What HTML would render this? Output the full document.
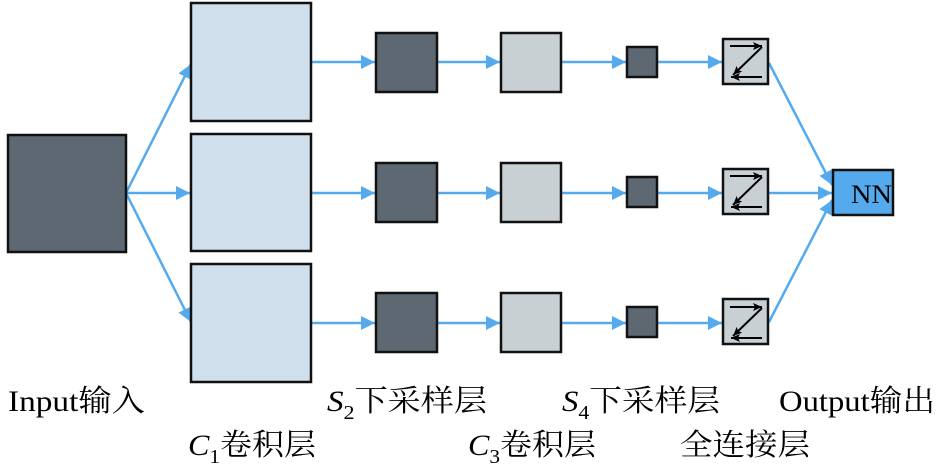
<!DOCTYPE html>
<html><head><meta charset="utf-8"><style>html,body{margin:0;padding:0;background:#fff}</style></head><body>
<svg width="945" height="470" viewBox="0 0 945 470" xmlns="http://www.w3.org/2000/svg">
<defs>
<marker id="a" markerWidth="10" markerHeight="8" refX="10" refY="4" orient="auto" markerUnits="userSpaceOnUse" viewBox="0 0 10 8"><path d="M0,0 L10,4 L0,8z" fill="#55aaee"/></marker>
<marker id="a2" markerWidth="14" markerHeight="14" refX="14" refY="7" orient="auto" markerUnits="userSpaceOnUse" viewBox="0 0 14 14"><path d="M0,0 L14,7 L0,14z" fill="#55aaee"/></marker>
<marker id="k" markerWidth="9" markerHeight="8" refX="9" refY="4" orient="auto" markerUnits="userSpaceOnUse" viewBox="0 0 9 8"><path d="M0,0 L9,4 L0,8 L2,4z" fill="#000"/></marker>
<g id="z">
</g>
</defs>
<g stroke="#55aaee" stroke-width="2.5" fill="none">
<line x1="126" y1="193" x2="191" y2="64" marker-end="url(#a2)"/>
<line x1="126" y1="193" x2="190" y2="193" marker-end="url(#a2)"/>
<line x1="126" y1="193" x2="191" y2="322" marker-end="url(#a2)"/>
<g id="row">
<line x1="311" y1="62" x2="375" y2="62" marker-end="url(#a2)"/>
<line x1="437" y1="62" x2="500" y2="62" marker-end="url(#a2)"/>
<line x1="561" y1="62" x2="626" y2="62" marker-end="url(#a2)"/>
<line x1="657" y1="62" x2="722" y2="62" marker-end="url(#a2)"/>
</g>
<use href="#row" y="131"/>
<use href="#row" y="261"/>
<line x1="769" y1="63" x2="832" y2="185" marker-end="url(#a2)"/>
<line x1="769" y1="193" x2="832" y2="193" marker-end="url(#a2)"/>
<line x1="769" y1="322" x2="832" y2="200" marker-end="url(#a2)"/>
</g>
<g stroke="#111" stroke-width="2.5">
<rect x="8" y="135" width="118" height="117" fill="#5d6873"/>
<rect x="191" y="3" width="120" height="118" fill="#cfe0ec"/>
<rect x="191" y="134" width="120" height="117" fill="#cfe0ec"/>
<rect x="191" y="264" width="120" height="118" fill="#cfe0ec"/>
<g id="col">
<rect x="376" y="33" width="61" height="59" fill="#5d6873"/>
<rect x="501" y="33" width="60" height="59" fill="#c8d0d4"/>
<rect x="627" y="47" width="30" height="30" fill="#5d6873"/>
<rect x="723" y="39" width="45" height="45" fill="#c8d0d4"/>
</g>
<use href="#col" y="130"/>
<use href="#col" y="260"/>
<rect x="833" y="170" width="60" height="45" fill="#55aaee"/>
</g>
<g id="zz" stroke="#000" stroke-width="2" fill="none">
<line x1="730" y1="46" x2="762" y2="46" marker-end="url(#k)"/>
<line x1="762" y1="47" x2="733" y2="75" marker-end="url(#k)"/>
<line x1="762" y1="77" x2="731" y2="77" marker-end="url(#k)"/>
</g>
<use href="#zz" y="130"/>
<use href="#zz" y="261"/>
<g font-family="Liberation Serif, Noto Serif CJK SC, serif" font-size="30" fill="#000">
<text x="851" y="203" font-size="26" textLength="41" lengthAdjust="spacingAndGlyphs">NN</text>
<text x="8" y="411" textLength="137" lengthAdjust="spacingAndGlyphs">Input输入</text>
<text x="327" y="411" textLength="160" lengthAdjust="spacingAndGlyphs"><tspan font-style="italic">S</tspan><tspan font-size="20" dy="8">2</tspan><tspan dy="-8">下采样层</tspan></text>
<text x="562" y="411" textLength="158" lengthAdjust="spacingAndGlyphs"><tspan font-style="italic">S</tspan><tspan font-size="20" dy="8">4</tspan><tspan dy="-8">下采样层</tspan></text>
<text x="779" y="411" textLength="156" lengthAdjust="spacingAndGlyphs">Output输出</text>
<text x="188" y="455" textLength="128" lengthAdjust="spacingAndGlyphs"><tspan font-style="italic">C</tspan><tspan font-size="20" dy="8">1</tspan><tspan dy="-8">卷积层</tspan></text>
<text x="468" y="455" textLength="128" lengthAdjust="spacingAndGlyphs"><tspan font-style="italic">C</tspan><tspan font-size="20" dy="8">3</tspan><tspan dy="-8">卷积层</tspan></text>
<text x="680" y="455" textLength="130" lengthAdjust="spacingAndGlyphs">全连接层</text>
</g>
</svg>
</body></html>
